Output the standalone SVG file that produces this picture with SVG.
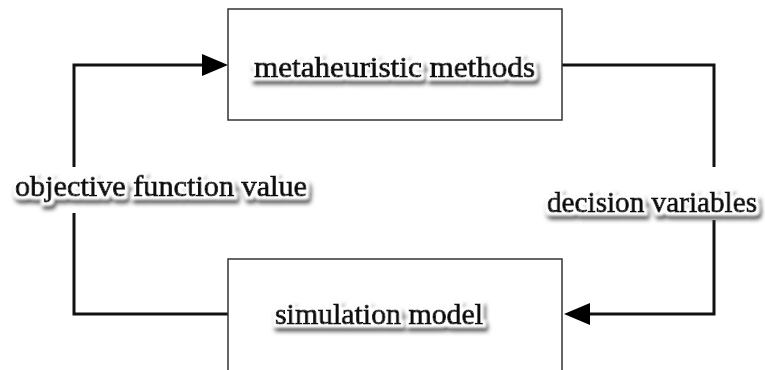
<svg xmlns="http://www.w3.org/2000/svg" width="765" height="370" viewBox="0 0 765 370">
<defs>
<filter id="glow" x="-10%" y="-40%" width="120%" height="190%">
<feMorphology in="SourceAlpha" operator="dilate" radius="3" result="d"/>
<feGaussianBlur in="d" stdDeviation="1" result="db"/>
<feGaussianBlur in="d" stdDeviation="2" result="sb"/>
<feOffset in="sb" dx="2" dy="4" result="off"/>
<feFlood flood-color="#555"/>
<feComposite in2="off" operator="in" result="shadow"/>
<feFlood flood-color="#fff"/>
<feComposite in2="db" operator="in" result="halo"/>
<feMerge><feMergeNode in="shadow"/><feMergeNode in="halo"/><feMergeNode in="SourceGraphic"/></feMerge>
</filter>
</defs>
<style>
.box{fill:#fff;stroke:#333;stroke-width:1.5}
.ln{fill:none;stroke:#111;stroke-width:3}
.t{font-family:"Liberation Serif","Times New Roman",serif;font-size:30px;fill:#111;stroke:#111;stroke-width:1;filter:url(#glow)}
</style>
<rect width="765" height="370" fill="#fff"/>
<g id="connectors">
<polyline class="ln" points="74,167 74,65 205,65"/>
<path d="M202,54 L228,65 L202,76 Z" fill="#000"/>
<polyline class="ln" points="74,213 74,314 228,314"/>
<polyline class="ln" points="562,65 714,65 714,167"/>
<polyline class="ln" points="714,220 714,314 588,314"/>
<path d="M590,303 L564,314 L590,325 Z" fill="#000"/>
</g>
<g id="node-metaheuristic">
<rect class="box" x="228" y="9" width="334" height="111"/>
<text class="t" x="254" y="77" textLength="281" lengthAdjust="spacingAndGlyphs">metaheuristic methods</text>
</g>
<g id="node-simulation">
<rect class="box" x="228" y="259" width="334" height="120"/>
<text class="t" x="275" y="324" textLength="208" lengthAdjust="spacingAndGlyphs">simulation model</text>
</g>
<g id="label-objective">
<text class="t" x="15" y="196" textLength="292" lengthAdjust="spacingAndGlyphs">objective function value</text>
</g>
<g id="label-decision">
<text class="t" x="547" y="212" textLength="210" lengthAdjust="spacingAndGlyphs">decision variables</text>
</g>
</svg>
